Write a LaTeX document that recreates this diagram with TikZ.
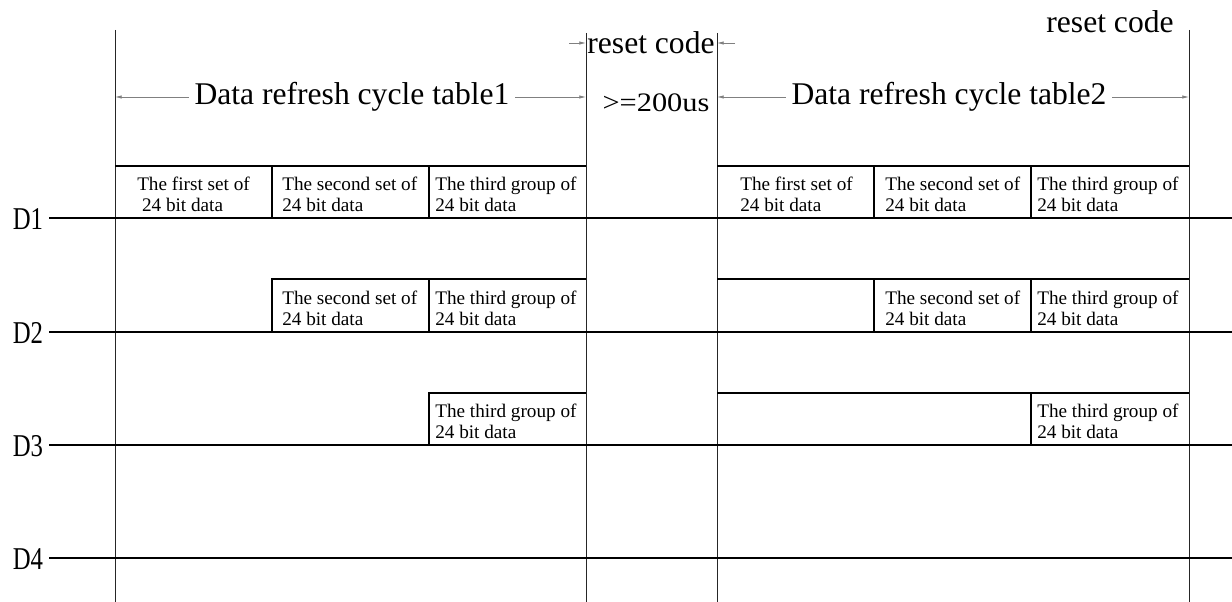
\documentclass[tikz,border=0pt]{standalone}
\usepackage{fontspec}
\setmainfont{Liberation Serif}
\usetikzlibrary{arrows.meta}

\newcommand{\sqz}[1]{\scalebox{0.78}[1]{#1}}
\newcommand{\wid}[1]{\scalebox{1.14}[1]{#1}}

\tikzset{
  sigline/.style={black, line width=1.3pt},
  bound/.style={black!85, line width=0.6pt},
  cellline/.style={black, line width=1pt},
  dim/.style={gray, line width=0.6pt, -{Latex[length=5pt,width=2.6pt]}},
  bigtext/.style={font=\fontsize{23.7}{26}\selectfont, inner sep=0pt, inner xsep=4pt},
  celltext/.style={font=\fontsize{14.4}{15.8}\selectfont, align=left, inner sep=0pt, anchor=west},
  dlabel/.style={font=\fontsize{23.8}{24}\selectfont, inner sep=0pt},
  gaptext/.style={font=\fontsize{20}{20}\selectfont, inner sep=0pt}
}

\begin{document}
\begin{tikzpicture}[x=0.75pt,y=-0.75pt]

\useasboundingbox (0,0) rectangle (1232,602);

% boundaries of the two tables and the reset gap
\draw [bound] (115,30) -- (115,602);
\draw [bound] (586,33) -- (586,602);
\draw [bound] (717,33) -- (717,602);
\draw [bound] (1189,30) -- (1189,602);

% signal lines
\draw [sigline] (49,218) -- (1232,218);
\draw [sigline] (49,332) -- (1232,332);
\draw [sigline] (49,445) -- (1232,445);
\draw [sigline] (49,558) -- (1232,558);

\node [dlabel] (d1) at (28,219) {\sqz{D1}};
\node [dlabel] (d2) at (28,333) {\sqz{D2}};
\node [dlabel] (d3) at (28,446) {\sqz{D3}};
\node [dlabel] (d4) at (28,559) {\sqz{D4}};

% table 1
\draw [cellline] (115,166) -- (586,166);
\draw [cellline] (272,166) -- (272,218);
\draw [cellline] (429,166) -- (429,218);
\draw [cellline] (272,332) -- (272,279) -- (586,279);
\draw [cellline] (429,279) -- (429,332);
\draw [cellline] (429,445) -- (429,393) -- (586,393);

\node [celltext] (a11) at (137,194) {The first set of\\\hspace*{0.25em}24 bit data};
\node [celltext] (a12) at (282,194) {The second set of\\24 bit data};
\node [celltext] (a13) at (435,194) {The third group of\\24 bit data};
\node [celltext] (a22) at (282,308) {The second set of\\24 bit data};
\node [celltext] (a23) at (435,308) {The third group of\\24 bit data};
\node [celltext] (a33) at (435,421) {The third group of\\24 bit data};

% table 2
\draw [cellline] (717,166) -- (1189,166);
\draw [cellline] (874,166) -- (874,218);
\draw [cellline] (1031,166) -- (1031,218);
\draw [cellline] (717,279) -- (1189,279);
\draw [cellline] (874,279) -- (874,332);
\draw [cellline] (1031,279) -- (1031,332);
\draw [cellline] (717,393) -- (1189,393);
\draw [cellline] (1031,393) -- (1031,445);

\node [celltext] (b11) at (740,194) {The first set of\\24 bit data};
\node [celltext] (b12) at (885,194) {The second set of\\24 bit data};
\node [celltext] (b13) at (1037,194) {The third group of\\24 bit data};
\node [celltext] (b22) at (885,308) {The second set of\\24 bit data};
\node [celltext] (b23) at (1037,308) {The third group of\\24 bit data};
\node [celltext] (b33) at (1037,421) {The third group of\\24 bit data};

% dimension labels
\node [bigtext] (tbl1) at (352,97) {Data refresh cycle table1};
\node [bigtext] (tbl2) at (949,97) {Data refresh cycle table2};
\node [bigtext, inner xsep=0pt] (rstmid) at (651,43) {reset code};
\node [bigtext, inner xsep=0pt] (rsttop) at (1110,22) {reset code};
\node [gaptext] (gap) at (656,103) {\wid{\textgreater=200us}};

\coordinate (t1l) at (115,97);
\coordinate (t1r) at (586,97);
\coordinate (t2l) at (717,97);
\coordinate (t2r) at (1189,97);
\coordinate (rl) at (586,43);
\coordinate (rr) at (717,43);
\coordinate (rlo) at (569,43);
\coordinate (rro) at (735,43);

\draw [dim] (tbl1.west) -- (t1l);
\draw [dim] (tbl1.east) -- (t1r);
\draw [dim] (tbl2.west) -- (t2l);
\draw [dim] (tbl2.east) -- (t2r);
\draw [dim] (rlo) -- (rl);
\draw [dim] (rro) -- (rr);

\end{tikzpicture}
\end{document}
